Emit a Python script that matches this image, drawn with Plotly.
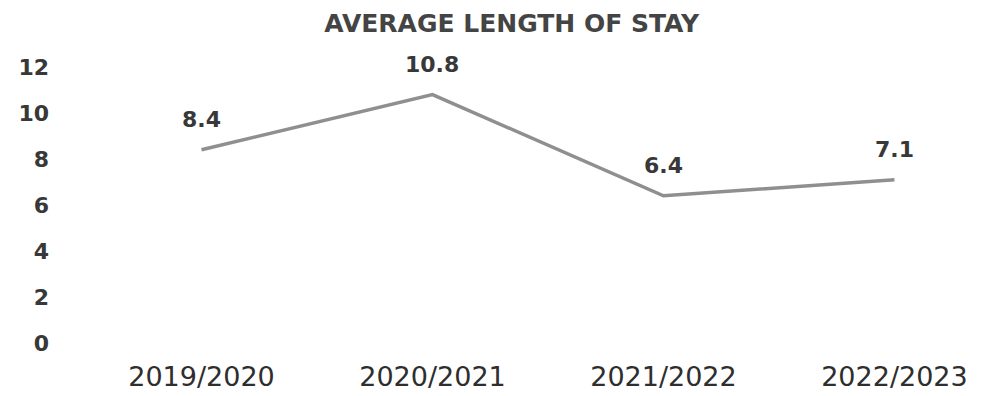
import plotly.graph_objects as go

# Average length of stay per financial year
years = ["2019/2020", "2020/2021", "2021/2022", "2022/2023"]
avg_stay = [8.4, 10.8, 6.4, 7.1]
y_ticks = [0, 2, 4, 6, 8, 10, 12]

text_color = "#383838"

fig = go.Figure()
fig.add_trace(go.Scatter(
    x=list(range(len(years))),
    y=avg_stay,
    mode="lines",
    line=dict(color="#8f8f8f", width=3.5),
    hoverinfo="skip",
))

# value labels above each point
for i, v in enumerate(avg_stay):
    fig.add_annotation(
        x=i, y=v, text=f"{v:.1f}", showarrow=False,
        yshift=30,
        font=dict(family="DejaVu Sans", size=22, color=text_color, weight="bold"),
    )

fig.update_layout(
    width=986, height=396,
    margin=dict(l=86, r=10, t=67, b=53),
    paper_bgcolor="white", plot_bgcolor="white",
    showlegend=False,
    title=dict(
        text="AVERAGE LENGTH OF STAY",
        x=0.519, xref="container", xanchor="center",
        y=0.942, yref="container", yanchor="middle",
        font=dict(family="DejaVu Sans", size=25, color="#444444", weight="bold"),
    ),
    xaxis=dict(
        range=[-0.5, 3.353],
        tickmode="array", tickvals=list(range(len(years))), ticktext=years,
        showgrid=False, zeroline=False, showline=False, ticks="",
        tickfont=dict(family="DejaVu Sans", size=27, color="#2e2e2e"),
        ticklabelstandoff=15,
        automargin=False,
    ),
    yaxis=dict(
        range=[0, 12],
        tickmode="array", tickvals=y_ticks,
        showgrid=False, zeroline=False, showline=False, ticks="",
        tickfont=dict(family="DejaVu Sans", size=22, color=text_color, weight="bold"),
        ticklabelstandoff=36,
        automargin=False,
    ),
)

fig.write_html("out.html")
